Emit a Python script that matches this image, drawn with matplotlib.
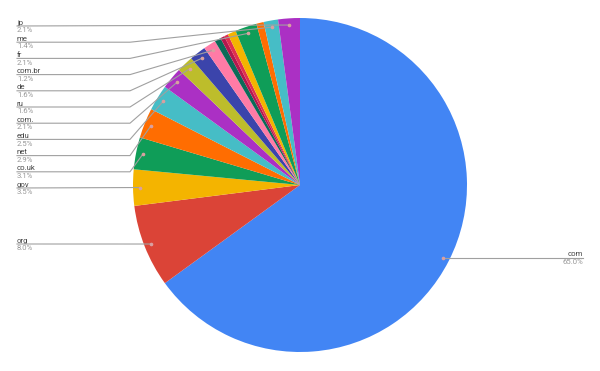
import numpy as np
import matplotlib
matplotlib.use("Agg")
import matplotlib.pyplot as plt

plt.rcParams['font.family'] = ['Roboto', 'DejaVu Sans']

names = ['com', 'org', 'gov', 'co.uk', 'net', 'edu', 'com.', 'ru', 'de', 'com.br',
         '', '', '', '', 'fr', '', 'me', 'jp']
values = [65.0, 8.0, 3.5, 3.1, 2.9, 2.5, 2.1, 1.6, 1.6, 1.2,
          0.6, 0.4, 0.4, 0.8, 2.1, 0.7, 1.4, 2.1]
colors = ['#4285f4', '#db4437', '#f4b400', '#0f9d58', '#ff6d01', '#46bdc6',
          '#ab30c4', '#bdbd2b', '#3b44ab', '#ff7ba6', '#0b6b58', '#b5174f',
          '#e0304f', '#f4b400', '#0f9d58', '#ff6d01', '#46bdc6', '#ab30c4']

# pixel -> data helpers (pie centre at px (300,185), radius 167 px)
R_PX = 167.0
def px(x):
    return (x - 300) / R_PX
def py(y):
    return (185 - y) / R_PX

fig = plt.figure(figsize=(6, 3.71), dpi=100)
ax = fig.add_axes([0, 0, 1, 1])

wedges, _ = ax.pie(values, colors=colors, startangle=90, counterclock=False,
                   radius=1, center=(0, 0), wedgeprops=dict(linewidth=0))
ax.set_xlim(px(0), px(600))
ax.set_ylim(py(371), py(0))
ax.set_aspect('equal')
ax.axis('off')

total = sum(values)
cum = np.cumsum([0] + values[:-1])
mid_frac = (cum + np.array(values) / 2) / total

# left labels, stacked from top
left_labels = ['jp', 'me', 'fr', 'com.br', 'de', 'ru', 'com.', 'edu', 'net', 'co.uk', 'gov']
left_y = {n: 26 + i * 16.2 for i, n in enumerate(left_labels)}
left_y['org'] = 244
line_col = '#a0a0a0'
name_col = '#444444'
pct_col = '#999999'
fs = 5.6
up = 1.5 / R_PX
down = 1.2 / R_PX

def put_label(x, ly, n, pct, ha):
    ax.text(x, ly + up, n, ha=ha, va='baseline', fontsize=fs, color=name_col)
    ax.text(x, ly - down, pct, ha=ha, va='top', fontsize=fs, color=pct_col)

for i, n in enumerate(names):
    if not n:
        continue
    ang = 2 * np.pi * mid_frac[i]
    dx, dy = 0.96 * np.sin(ang), 0.96 * np.cos(ang)
    ax.plot(dx, dy, 'o', ms=1.6, color='#d9a0a0', zorder=5)
    pct = f"{values[i]:.1f}%"
    if n == 'com':
        ly = dy
        ax.plot([dx, px(583)], [ly, ly], color=line_col, lw=0.8, zorder=4)
        put_label(px(583), ly, n, pct, 'right')
        continue
    ly = py(left_y[n])
    if n in ('jp', 'gov', 'org'):
        xs, ys = [px(17), dx], [ly, dy]
    else:
        xs, ys = [px(17), px(130), dx], [ly, ly, dy]
    ax.plot(xs, ys, color=line_col, lw=0.8, zorder=4)
    put_label(px(17), ly, n, pct, 'left')

fig.savefig('out.png', dpi=100)
